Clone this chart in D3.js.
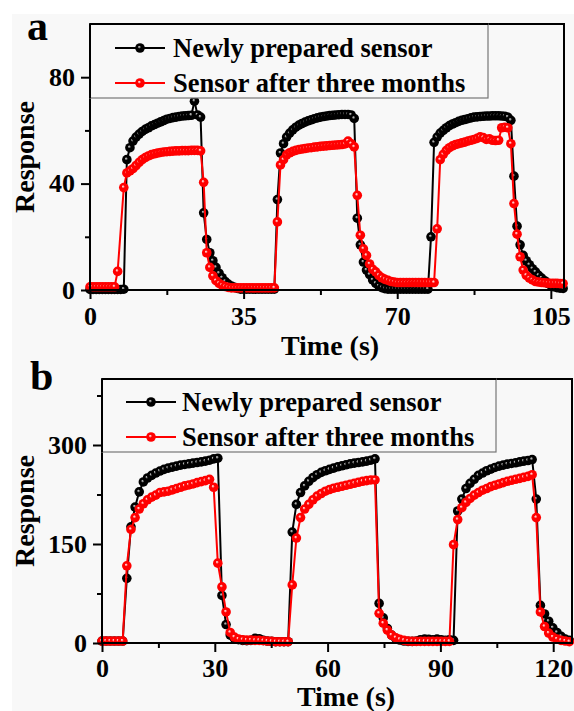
<!DOCTYPE html>
<html>
<head>
<meta charset="utf-8">
<script src="https://cdnjs.cloudflare.com/ajax/libs/d3/7.8.5/d3.min.js"></script>
<style>
  body { margin: 0; background: #fff; }
  svg text { font-family: "Liberation Serif", "Times New Roman", serif; font-weight: bold; fill: #000; }
</style>
</head>
<body>
<svg id="chart" width="574" height="711"></svg>
<script>
// ---- data ----
// panel a: sampled every 0.7 s, starting at 0 s (null = no sample drawn)
const stepA = 0.7;
const newSensorA = [
  0.2,0.2,0.2,0.2,0.2,0.2,0.2,0.2,0.2,0.2,
  0.2,0.3,49,53.5,56,57.5,58.6,59.6,60.4,61,
  61.7,62.2,62.7,63.2,63.7,64.2,64.5,64.8,65,65.2,
  65.4,65.5,65.6,65.7,71,65.8,65,29,19,14,
  11,8.5,6.3,4.6,3.2,2.2,1.5,1,0.6,0.3,
  0.3,0.3,0.3,0.3,0.3,0.3,0.3,0.3,0.3,0.3,
  0.3,34,51.5,55,57.5,59,60.2,61.2,62,62.6,
  63.1,63.6,64,64.4,64.7,65,65.2,65.4,65.6,65.7,
  65.8,65.9,66,66,66,65.8,64.5,27,17,10.5,
  7.5,5.8,3.8,2.5,1.5,0.9,0.5,0.3,0.3,0.3,
  0.3,0.3,0.3,0.3,0.3,0.3,0.3,0.3,0.3,0.3,
  0.3,20,55.5,57.5,59,60,61,61.8,62.4,62.9,
  63.4,63.8,64.1,64.4,64.7,65,65.1,65.2,65.3,65.4,
  65.4,65.5,65.5,65.5,65.4,65.3,65,63.8,42.8,24,
  17,13,11,9.5,8,6.8,5.5,4.5,3.5,2.5,
  1.8,1.2,0.9,0.7,0.6
];
const oldSensorA = [
  1.2,1.2,1.2,1.2,1.2,1.2,1.2,1.2,1.2,7,
  null,38.5,44,44.8,45.6,46.8,48,49,49.8,50.4,
  50.9,51.2,51.5,51.7,51.9,52,52.1,52.2,52.3,52.3,
  52.4,52.4,52.4,52.5,52.5,52.5,52.3,40.5,14,8.5,
  5.3,3.5,2.5,1.8,1.3,1,0.8,0.8,0.8,0.8,
  0.8,0.8,0.8,0.8,0.8,0.8,0.8,0.8,0.8,0.8,
  0.8,25.6,47,49,50.8,51.6,52.1,52.5,52.8,53,
  53.2,53.4,53.5,53.7,53.8,54,54.1,54.2,54.3,54.4,
  54.5,54.6,54.7,54.9,56,55,53.8,35.6,20.6,15.5,
  13,9.8,7.8,6.8,5.5,4.6,4,3.6,3.2,3,
  2.8,2.8,2.8,2.8,2.8,2.8,2.8,2.8,2.8,2.8,
  2.8,2.8,2.8,23,49,51,52.5,53.5,54.2,54.7,
  55,55.3,55.6,56,56.3,56.6,57,57.6,57.3,56.6,
  56.8,56.3,56.2,56.3,61,61.2,61,55,32.5,21,
  12.5,7.5,5.5,4.5,3.8,3.2,3,2.8,2.7,2.6,
  2.5,2.5,2.5,2.4,2.4
];

// panel b: sampled every 1.1 s, starting at 0 s
const stepB = 1.1;
const newSensorB = [
  3,3,3,3,3,3,98,176,206,229,
  244,250,254,257.5,260.5,263,265,266.5,268,269.5,
  270.5,271.5,272.5,273.5,274.5,275.5,277,279,280,72,
  28,12,7,5,4,3.5,4,7,6.5,4,
  3,2.5,2,2,2,2,168,210,228,238,
  245,250.5,255,258.5,261,263,265,267,268.5,270,
  271.5,272.5,273.5,274.5,275.5,277,279,60,38,22,
  12,7,4.5,3,2.5,2.5,3,5,6,5.5,
  5,6,5,4,5,4,200,218,234,242,
  248,254,257.5,261,263.5,266,268,269.5,271,272,
  273,274.5,275.5,276.5,278,218,57,44,33,23,
  16,10,6,4
];
const oldSensorB = [
  3,3,3,3,3,3,117,172,190,203,
  211,217,221,224,228,229,230,232,234,236,
  238,239.5,241,243,244.5,246,248,236,121,85,
  47,16,9,6,5,4.5,4.5,4,4,3.5,
  3,2.5,2,2,2,2,88,159,190,203,
  210,217,222.5,226.5,230,232.5,234.5,236,237.5,239,
  240.5,242,243.5,245,246,247,247,45,30,19.5,
  12,8,5.5,4,3,2.5,2.5,2.5,2.5,2.5,
  2.5,2.5,2.5,2.5,2.5,149,187,205,213,219,
  224,228,231.5,234,237,239,241,243,245,246.5,
  248,249.5,251,252.5,255,190,47,25,15,9,
  6,4,3,2
];

const seriesNames = ["Newly prepared sensor", "Sensor after three months"];
const seriesColors = ["#000000", "#ff0000"];
const seriesHighlights = ["#b0b0b0", "#ffc8c8"];

const ticksA = { x: [0, 35, 70, 105], xMinor: [17.5, 52.5, 87.5], y: [0, 40, 80], yMinor: [20, 60] };
const ticksB = { x: [0, 30, 60, 90, 120], xMinor: [15, 45, 75, 105], y: [0, 150, 300], yMinor: [75, 225, 375] };

// ---- drawing ----
const svg = d3.select("#chart");
const bg = "#f8f8f8";
svg.append("rect").attr("x", 12).attr("y", 14).attr("width", 562).attr("height", 697).attr("fill", bg);

// shaded ball markers
const defs = svg.append("defs");
seriesColors.forEach((c, k) => {
  const g = defs.append("radialGradient").attr("id", "ball" + k)
    .attr("cx", "0.5").attr("cy", "0.5").attr("r", "0.5")
    .attr("fx", "0.4").attr("fy", "0.36");
  g.append("stop").attr("offset", "0%").attr("stop-color", seriesHighlights[k]);
  g.append("stop").attr("offset", "10%").attr("stop-color", seriesHighlights[k]);
  g.append("stop").attr("offset", "35%").attr("stop-color", c);
  g.append("stop").attr("offset", "100%").attr("stop-color", c);
});

function toPoints(vals, step) {
  return vals.map((v, i) => ({ t: i * step, v: v })).filter(d => d.v !== null);
}

function drawPanel(p) {
  const x = d3.scaleLinear().domain(p.xDomain).range([p.left, p.right]);
  const y = d3.scaleLinear().domain(p.yDomain).range([p.bottom, p.top]);
  const g = svg.append("g");

  const line = d3.line().x(d => x(d.t)).y(d => y(d.v));
  p.series.forEach((vals, k) => {
    const pts = toPoints(vals, p.step);
    g.append("path").datum(pts)
      .attr("fill", "none").attr("stroke", seriesColors[k]).attr("stroke-width", 2)
      .attr("d", line);
    g.append("g").selectAll("circle").data(pts).enter().append("circle")
      .attr("cx", d => x(d.t)).attr("cy", d => y(d.v)).attr("r", 4.8)
      .attr("fill", "url(#ball" + k + ")");
  });

  // axes
  const styleAxis = sel => {
    sel.select(".domain").remove();
    sel.selectAll("line").attr("stroke", "#000").attr("stroke-width", 2);
    sel.selectAll("text").attr("font-size", 26);
  };
  g.append("g").attr("transform", `translate(0,${p.bottom})`)
    .call(d3.axisBottom(x).tickValues(p.ticks.x).tickSize(9).tickPadding(p.xPad).tickFormat(d3.format("d")))
    .call(styleAxis);
  g.append("g").attr("transform", `translate(0,${p.bottom})`)
    .call(d3.axisBottom(x).tickValues(p.ticks.xMinor).tickSize(5).tickFormat(""))
    .call(styleAxis);
  g.append("g").attr("transform", `translate(${p.left},0)`)
    .call(d3.axisLeft(y).tickValues(p.ticks.y).tickSize(9).tickPadding(6).tickFormat(d3.format("d")))
    .call(styleAxis);
  g.append("g").attr("transform", `translate(${p.left},0)`)
    .call(d3.axisLeft(y).tickValues(p.ticks.yMinor).tickSize(5).tickFormat(""))
    .call(styleAxis);
  g.selectAll("text").attr("font-family", "Liberation Serif").attr("font-weight", "bold").attr("fill", "#000");

  // frame
  g.append("rect").attr("x", p.left).attr("y", p.top)
    .attr("width", p.right - p.left).attr("height", p.bottom - p.top)
    .attr("fill", "none").attr("stroke", "#000").attr("stroke-width", 2);

  // legend
  const lg = g.append("g");
  lg.append("rect").attr("x", p.left).attr("y", p.top)
    .attr("width", p.legend.w).attr("height", p.legend.h)
    .attr("fill", bg).attr("stroke", "#777").attr("stroke-width", 1.2);
  lg.append("line").attr("x1", p.left).attr("x2", p.left).attr("y1", p.top).attr("y2", p.top + p.legend.h)
    .attr("stroke", "#000").attr("stroke-width", 2);
  lg.append("line").attr("x1", p.left).attr("x2", p.left + p.legend.w).attr("y1", p.top).attr("y2", p.top)
    .attr("stroke", "#000").attr("stroke-width", 2);
  seriesNames.forEach((name, k) => {
    const ry = p.legend.rows[k];
    lg.append("line").attr("x1", p.legend.lx).attr("x2", p.legend.lx + 50)
      .attr("y1", ry).attr("y2", ry).attr("stroke", seriesColors[k]).attr("stroke-width", 2);
    lg.append("circle").attr("cx", p.legend.lx + 25).attr("cy", ry).attr("r", 4.8)
      .attr("fill", "url(#ball" + k + ")");
    lg.append("text").attr("x", p.legend.tx).attr("y", ry + 9)
      .attr("font-size", 26.5).text(name);
  });

  // titles
  g.append("text").attr("x", p.xTitle[0]).attr("y", p.xTitle[1])
    .attr("text-anchor", "middle").attr("font-size", 28).text("Time (s)");
  g.append("text")
    .attr("transform", `translate(${p.yTitleX},${(p.top + p.bottom) / 2}) rotate(-90)`)
    .attr("text-anchor", "middle").attr("font-size", 28).text("Response");
  g.append("text").attr("x", p.tag[0]).attr("y", p.tag[1])
    .attr("font-size", 42).text(p.tagText);
}

drawPanel({
  left: 90, right: 564, top: 24, bottom: 290,
  xDomain: [0, 108], yDomain: [0, 100], step: stepA,
  series: [newSensorA, oldSensorA], ticks: ticksA, xPad: 8,
  legend: { w: 398, h: 74, rows: [48, 83], lx: 115, tx: 173 },
  xTitle: [330, 355], yTitleX: 34, tag: [27, 40], tagText: "a"
});
drawPanel({
  left: 102, right: 572, top: 379, bottom: 643,
  xDomain: [0, 125], yDomain: [0, 400], step: stepB,
  series: [newSensorB, oldSensorB], ticks: ticksB, xPad: 7,
  legend: { w: 394, h: 73, rows: [402, 437], lx: 126, tx: 182 },
  xTitle: [346, 706], yTitleX: 34, tag: [30, 390], tagText: "b"
});
</script>
</body>
</html>
